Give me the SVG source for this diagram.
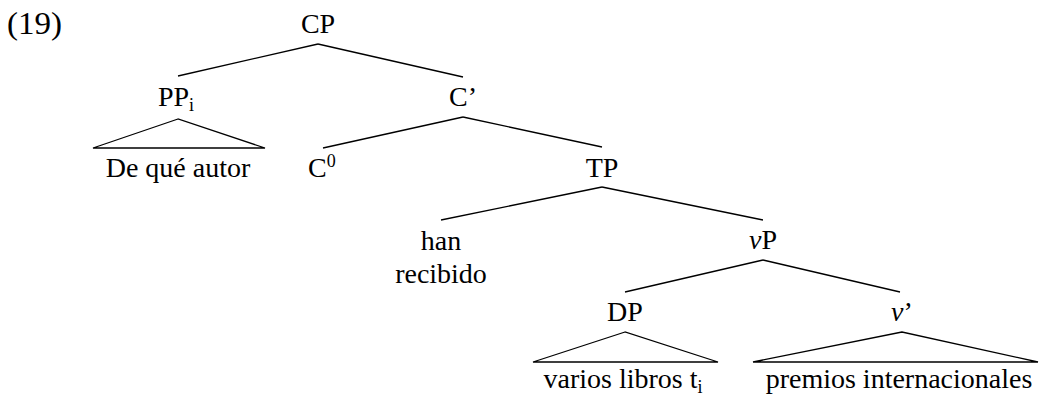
<svg xmlns="http://www.w3.org/2000/svg" width="1039" height="398" viewBox="0 0 1039 398">
<style>
text{font-family:"Liberation Serif","Times New Roman",serif;font-size:28px;fill:#000;text-anchor:middle}
.l{stroke:#000;stroke-width:1.3;fill:none}
.sub{font-size:18px}
</style>
<rect width="1039" height="398" fill="#fff"/>
<text x="7" y="34" style="text-anchor:start;font-size:31px" textLength="55" lengthAdjust="spacingAndGlyphs">(19)</text>
<g id="connectors">
<line class="l" x1="318" y1="44" x2="178" y2="76"/>
<line class="l" x1="318" y1="44" x2="463" y2="77"/>
<polygon class="l" points="178,119 93,148 265,148"/>
<line class="l" x1="463" y1="117" x2="323" y2="148"/>
<line class="l" x1="463" y1="117" x2="602" y2="147"/>
<line class="l" x1="602" y1="187" x2="441" y2="220"/>
<line class="l" x1="602" y1="187" x2="763" y2="220"/>
<line class="l" x1="763" y1="260" x2="625" y2="292"/>
<line class="l" x1="763" y1="260" x2="900" y2="292"/>
<polygon class="l" points="625,332 533,362 718,362"/>
<polygon class="l" points="902,332 753,362 1038,362"/>
</g>
<g id="CP"><text x="318" y="33">CP</text></g>
<g id="PP"><text x="176" y="106">PP<tspan class="sub" dy="5">i</tspan></text></g>
<g id="PP-text"><text x="178" y="177">De qué autor</text></g>
<g id="Cbar"><text x="463" y="106">C’</text></g>
<g id="C0"><text x="308" y="177" style="text-anchor:start">C<tspan class="sub" dy="-10">0</tspan></text></g>
<g id="TP"><text x="602" y="177">TP</text></g>
<g id="han"><text x="441" y="250">han</text><text x="441" y="283">recibido</text></g>
<g id="vP"><text x="763" y="249"><tspan font-style="italic">v</tspan>P</text></g>
<g id="DP"><text x="625" y="321">DP</text></g>
<g id="DP-text"><text x="623" y="388">varios libros t<tspan class="sub" dy="5">i</tspan></text></g>
<g id="vbar"><text x="902" y="321"><tspan font-style="italic">v</tspan>’</text></g>
<g id="vbar-text"><text x="899" y="388">premios internacionales</text></g>
</svg>
